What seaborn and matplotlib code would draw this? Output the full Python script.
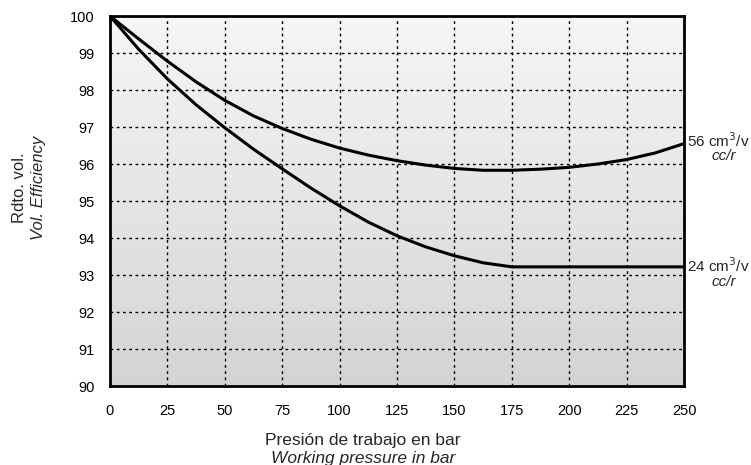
import numpy as np
import pandas as pd
import matplotlib
matplotlib.use("Agg")
import matplotlib.pyplot as plt
import seaborn as sns

# values
pressure = [0, 12.5, 25, 37.5, 50, 62.5, 75, 87.5, 100, 112.5, 125, 137.5, 150, 162.5, 175, 187.5, 200, 212.5, 225, 237.5, 250]
eff_56 = [100, 99.38, 98.78, 98.22, 97.72, 97.3, 96.96, 96.67, 96.43, 96.24, 96.09, 95.97, 95.88, 95.83, 95.83, 95.86, 95.91, 96.0, 96.12, 96.3, 96.55]
eff_24 = [100, 99.1, 98.3, 97.6, 96.98, 96.4, 95.87, 95.35, 94.87, 94.43, 94.06, 93.76, 93.52, 93.33, 93.22, 93.22, 93.22, 93.22, 93.22, 93.22, 93.22]
x_ticks = [0, 25, 50, 75, 100, 125, 150, 175, 200, 225, 250]
y_ticks = list(range(90, 101))

df = pd.DataFrame({
    "pressure": pressure * 2,
    "eff": eff_56 + eff_24,
    "size": ["56"] * len(pressure) + ["24"] * len(pressure),
})

sns.set_theme(style="white")
plt.rcParams["font.family"] = ["Liberation Sans", "DejaVu Sans"]

fig = plt.figure(figsize=(7.51, 4.65), dpi=100)
ax = fig.add_axes([110 / 751, 1 - 386 / 465, (684 - 110) / 751, (386 - 16) / 465])

# vertical gradient background, light at top, grey at bottom
grad = np.linspace(0, 1, 256).reshape(-1, 1)
cmap = matplotlib.colors.LinearSegmentedColormap.from_list("bg", ["#f6f6f7", "#d3d4d6"])
ax.imshow(grad, extent=[0, 250, 90, 100], origin="upper", cmap=cmap, aspect="auto", zorder=0)

sns.lineplot(data=df, x="pressure", y="eff", hue="size", palette={"56": "black", "24": "black"},
             linewidth=2.2, legend=False, ax=ax, zorder=3, sort=False, estimator=None)

ax.set_xlim(0, 250)
ax.set_ylim(90, 100)
ax.set_xticks(x_ticks)
ax.set_yticks(y_ticks)
ax.tick_params(axis="x", length=0, pad=13, labelsize=10.5, colors="black")
ax.tick_params(axis="y", length=0, pad=11, labelsize=10.5, colors="black")
for v in x_ticks[1:-1]:
    ax.axvline(v, color="black", lw=1, ls=(0, (2, 2.5)), zorder=1)
for v in y_ticks[1:-1]:
    ax.axhline(v, color="black", lw=1, ls=(0, (2, 2.5)), zorder=1)
for s in ax.spines.values():
    s.set_visible(True)
    s.set_color("black")
    s.set_linewidth(2)
ax.set_xlabel("")
ax.set_ylabel("")

# axis titles
fig.text(363 / 751, 1 - 440 / 465, "Presión de trabajo en bar", ha="center", va="center", fontsize=12.5)
fig.text(363 / 751, 1 - 458 / 465, "Working pressure in bar", ha="center", va="center", fontsize=12.5, style="italic")
fig.text(20 / 751, 1 - 188 / 465, "Rdto. vol.", ha="center", va="center", fontsize=12, rotation=90)
fig.text(39 / 751, 1 - 188 / 465, "Vol. Efficiency", ha="center", va="center", fontsize=12, rotation=90, style="italic")

# curve labels
for y_cm, y_cc, lab in [(141, 156, "56"), (266, 282, "24")]:
    fig.text(718 / 751, 1 - y_cm / 465, lab + r" cm$^{3}$/v", ha="center", va="center", fontsize=11)
    fig.text(724 / 751, 1 - y_cc / 465, "cc/r", ha="center", va="center", fontsize=11, style="italic")

fig.savefig("out.png", dpi=100)
